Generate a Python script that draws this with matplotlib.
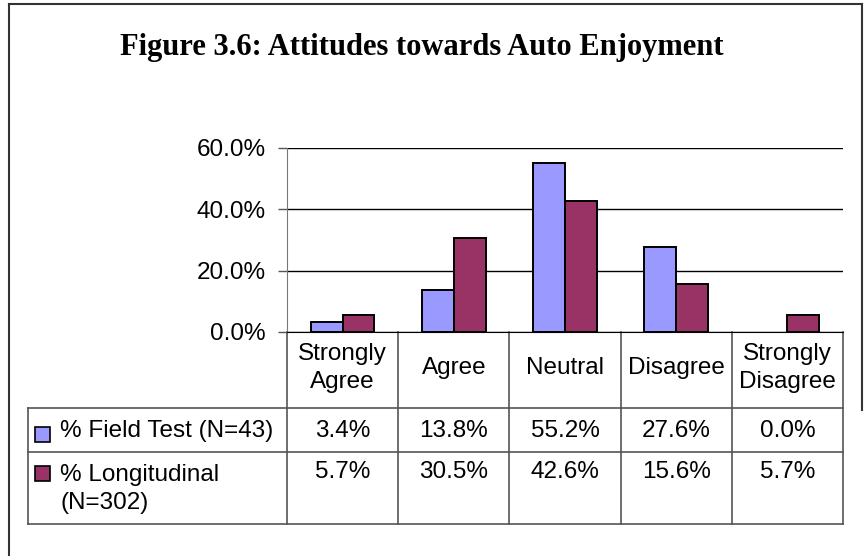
import numpy as np
import matplotlib
matplotlib.use('Agg')
import matplotlib.pyplot as plt
from matplotlib.patches import Rectangle
from matplotlib.lines import Line2D
from matplotlib.ticker import FuncFormatter

plt.rcParams['font.family'] = ['Liberation Sans', 'DejaVu Sans']

# data
categories = ['Strongly\nAgree', 'Agree', 'Neutral', 'Disagree', 'Strongly\nDisagree']
field_test = [3.4, 13.8, 55.2, 27.6, 0.0]
longitudinal = [5.7, 30.5, 42.6, 15.6, 5.7]
series_names = ['% Field Test (N=43)', '% Longitudinal\n(N=302)']
yticks = [0, 20, 40, 60]

blue = '#9999FF'
purple = '#993366'
fs = 17.5

W, H = 868, 556
fig = plt.figure(figsize=(W / 100, H / 100), dpi=100)

# plot area in pixels (left, right, top, zero line)
L, R, T, B = 287, 843, 148, 332
ax = fig.add_axes([L / W, 1 - B / H, (R - L) / W, (B - T) / H])


def ax_x(px):
    return (px - L) / (R - L)


def ax_y(py):
    return (B - py) / (B - T)


def fx(px):
    return px / W


def fy(py):
    return 1 - py / H


x = np.arange(len(categories))
bw = 1 / 3.5
# zero-height bars get no outline, as in Excel
lw_ft = [1.4 if v > 0 else 0 for v in field_test]
lw_lo = [1.4 if v > 0 else 0 for v in longitudinal]
ax.bar(x - bw / 2, field_test, bw, color=blue, edgecolor='black', linewidth=lw_ft, zorder=3)
ax.bar(x + bw / 2, longitudinal, bw, color=purple, edgecolor='black', linewidth=lw_lo, zorder=3)

ax.set_xlim(-0.5, len(categories) - 0.5)
ax.set_ylim(0, 60)
ax.set_yticks(yticks)
ax.yaxis.set_major_formatter(FuncFormatter(lambda v, p: f'{v:.1f}%'))
ax.set_xticks([])
ax.tick_params(axis='y', direction='out', length=6.5, width=1, colors='#555555',
               labelcolor='black', labelsize=fs, pad=9)
ax.grid(axis='y', color='black', linewidth=1)
ax.set_axisbelow(True)
for s in ['top', 'right']:
    ax.spines[s].set_visible(False)
ax.spines['left'].set_color('#777777')
ax.spines['bottom'].set_color('black')
ax.patch.set_visible(False)

# data table under the plot
tr = ax.transAxes
tcol = '#555555'
row_lines = [408, 452, 524]
tx0 = 28
ncol = len(categories)
for py in row_lines:
    ax.add_line(Line2D([ax_x(tx0), 1], [ax_y(py)] * 2, transform=tr, color=tcol,
                       lw=1.2, clip_on=False))
for i in range(ncol + 1):
    ax.add_line(Line2D([i / ncol] * 2, [0, ax_y(row_lines[-1])], transform=tr,
                       color=tcol, lw=1.2, clip_on=False))
ax.add_line(Line2D([ax_x(tx0)] * 2, [ax_y(row_lines[0]), ax_y(row_lines[-1])],
                   transform=tr, color=tcol, lw=1.2, clip_on=False))

for i, c in enumerate(categories):
    xc = (i + 0.5) / ncol
    ax.text(xc, ax_y(368), c, transform=tr, ha='center', va='center',
            fontsize=fs, linespacing=1.4)
    ax.text(xc, ax_y(431), f'{field_test[i]:.1f}%', transform=tr, ha='center',
            va='center', fontsize=fs)
    ax.text(xc, ax_y(472), f'{longitudinal[i]:.1f}%', transform=tr, ha='center',
            va='center', fontsize=fs)

# legend keys in the table
for name, col, yc, yt, va in [(series_names[0], blue, 434, 431, 'center'),
                              (series_names[1], purple, 473, 489, 'center')]:
    ax.add_patch(Rectangle((ax_x(35), ax_y(yc + 7.5)), ax_x(50) - ax_x(35),
                           ax_y(yc - 7.5) - ax_y(yc + 7.5), transform=tr,
                           facecolor=col, edgecolor='black', lw=1.2, clip_on=False))
    ax.text(ax_x(60), ax_y(yt), name, transform=tr, ha='left', va=va,
            fontsize=fs, linespacing=1.4)

# title and outer frame
fig.text(fx(421.5), fy(55), 'Figure 3.6: Attitudes towards Auto Enjoyment',
         ha='center', va='baseline', fontsize=22, fontweight='bold',
         family=['Liberation Serif', 'DejaVu Serif'])
fcol = '#333333'
fig.add_artist(Line2D([fx(9), fx(9)], [fy(4), fy(556)], color=fcol, lw=1.5))
fig.add_artist(Line2D([fx(9), fx(862)], [fy(4), fy(4)], color=fcol, lw=1.5))
fig.add_artist(Line2D([fx(862), fx(862)], [fy(4), fy(410)], color=fcol, lw=1.5))

fig.savefig('out.png', dpi=100)
